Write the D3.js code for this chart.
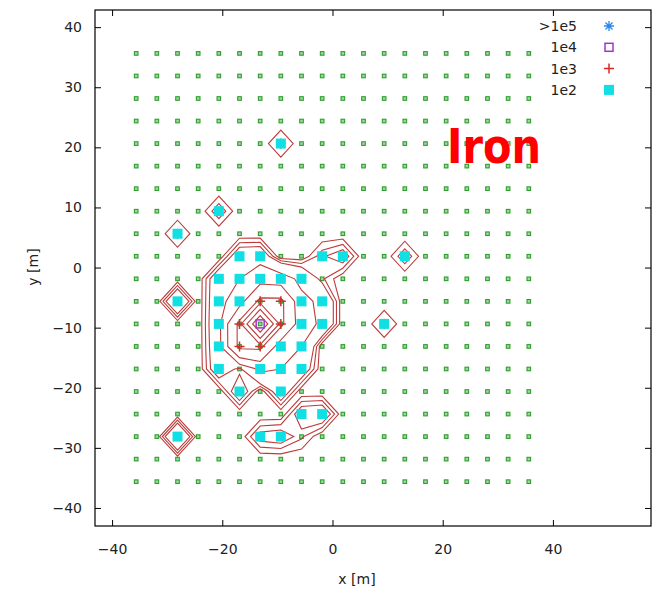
<!DOCTYPE html>
<html>
<head>
<meta charset="utf-8">
<script src="https://cdn.jsdelivr.net/npm/d3@7"></script>
<style>
  body { margin: 0; background: #fff; }
  svg text { font-family: "DejaVu Sans", sans-serif; fill: #222; }
</style>
</head>
<body>
<svg width="662" height="589"></svg>
<script>
// detector array positions (m), 20 x 20
var gridX = [-35.625, -31.875, -28.125, -24.375, -20.625, -16.875, -13.125, -9.375, -5.625, -1.875,
             1.875, 5.625, 9.375, 13.125, 16.875, 20.625, 24.375, 28.125, 31.875, 35.625];
var gridY = [35.625, 31.875, 28.125, 24.375, 20.625, 16.875, 13.125, 9.375, 5.625, 1.875,
             -1.875, -5.625, -9.375, -13.125, -16.875, -20.625, -24.375, -28.125, -31.875, -35.625];

// detectors with signal (x, y, particles)
var hitX = [-9.375, -20.625, -28.125, -28.125, -28.125, 13.125, 9.375,
            -16.875, -13.125, -1.875, 1.875,
            -20.625, -16.875, -13.125, -9.375, -5.625, -1.875,
            -20.625, -16.875, -13.125, -9.375, -5.625, -1.875,
            -20.625, -16.875, -13.125, -9.375, -5.625, -1.875,
            -20.625, -16.875, -13.125, -9.375, -5.625,
            -20.625, -16.875, -13.125, -9.375, -5.625,
            -16.875, -9.375,
            -5.625, -1.875,
            -13.125, -9.375, -5.625];
var hitY = [20.625, 9.375, 5.625, -5.625, -28.125, 1.875, -9.375,
            1.875, 1.875, 1.875, 1.875,
            -1.875, -1.875, -1.875, -1.875, -1.875, -1.875,
            -5.625, -5.625, -5.625, -5.625, -5.625, -5.625,
            -9.375, -9.375, -9.375, -9.375, -9.375, -9.375,
            -13.125, -13.125, -13.125, -13.125, -13.125,
            -16.875, -16.875, -16.875, -16.875, -16.875,
            -20.625, -20.625,
            -24.375, -24.375,
            -28.125, -28.125, -28.125];
var hitSignal = [100, 120, 100, 270, 300, 120, 100,
                 200, 210, 110, 170,
                 210, 300, 450, 400, 250, 90,
                 220, 450, 1100, 1100, 350, 260,
                 230, 1100, 12000, 1100, 400, 260,
                 220, 1100, 1100, 400, 300,
                 200, 95, 350, 300, 200,
                 200, 200,
                 180, 200,
                 150, 170, 90];

var contourLevels = [40, 80, 120, 300, 600, 1000, 2000, 5000, 8000];

var legendLabels = [">1e5", "1e4", "1e3", "1e2"];
var legendMin = [1e5, 1e4, 1e3, 1e2];

var xTicks = [-40, -20, 0, 20, 40];
var yTicks = [-40, -30, -20, -10, 0, 10, 20, 30, 40];

var svg = d3.select("svg");
var plotL = 95, plotR = 651, plotT = 10, plotB = 526;

var x = d3.scaleLinear().domain([-43.1, 57.8]).range([plotL, plotR]);
var y = d3.scaleLinear().domain([-43.0, 42.85]).range([plotB, plotT]);

// signal grid for contouring
var nx = gridX.length, ny = gridY.length;
var values = new Array(nx * ny).fill(0);
hitX.forEach(function(hx, i) {
  var c = gridX.indexOf(hx), r = gridY.indexOf(hitY[i]);
  values[r * nx + c] = hitSignal[i];
});

var colToX = d3.scaleLinear().domain([0.5, nx - 0.5]).range([gridX[0], gridX[nx - 1]]);
var rowToY = d3.scaleLinear().domain([0.5, ny - 0.5]).range([gridY[0], gridY[ny - 1]]);

var path = d3.geoPath(d3.geoTransform({
  point: function(px, py) { this.stream.point(x(colToX(px)), y(rowToY(py))); }
}));

// green: all detectors
var detectors = [];
gridY.forEach(function(gy) { gridX.forEach(function(gx) { detectors.push([gx, gy]); }); });

svg.append("g")
  .selectAll("rect")
  .data(detectors)
  .enter().append("rect")
  .attr("x", function(d) { return x(d[0]) - 1.8; })
  .attr("y", function(d) { return y(d[1]) - 1.8; })
  .attr("width", 3.6)
  .attr("height", 3.6)
  .attr("fill", "#9fd89f")
  .attr("stroke", "#2e9e2e")
  .attr("stroke-width", 1.1);

// contours
var contours = d3.contours().size([nx, ny]).thresholds(contourLevels)(values);
svg.append("g")
  .selectAll("path")
  .data(contours)
  .enter().append("path")
  .attr("d", path)
  .attr("fill", "none")
  .attr("stroke", "#bd3b3b")
  .attr("stroke-width", 1.1);

var hits = hitX.map(function(hx, i) { return { x: hx, y: hitY[i], s: hitSignal[i] }; });
function level(s) {
  for (var k = 0; k < legendMin.length; k++) if (s >= legendMin[k]) return k;
  return -1;
}

function drawMarker(g, k) {
  if (k === 0) {
    g.append("path").attr("d", "M-5,0H5M0,-5V5M-3.5,-3.5L3.5,3.5M-3.5,3.5L3.5,-3.5")
      .attr("stroke", "#2a86e8").attr("stroke-width", 1.3).attr("fill", "none");
  } else if (k === 1) {
    g.append("rect").attr("x", -4).attr("y", -4).attr("width", 8).attr("height", 8)
      .attr("fill", "none").attr("stroke", "#a035c8").attr("stroke-width", 1.5);
  } else if (k === 2) {
    g.append("path").attr("d", "M-5,0H5M0,-5V5")
      .attr("stroke", "#d42a2a").attr("stroke-width", 1.5).attr("fill", "none");
  } else if (k === 3) {
    g.append("rect").attr("x", -5).attr("y", -5).attr("width", 10).attr("height", 10)
      .attr("fill", "#10e0e4");
  }
}

// markers: draw lower classes first
[3, 2, 1, 0].forEach(function(k) {
  svg.append("g")
    .selectAll("g")
    .data(hits.filter(function(d) { return level(d.s) === k; }))
    .enter().append("g")
    .attr("transform", function(d) { return "translate(" + x(d.x) + "," + y(d.y) + ")"; })
    .each(function() { drawMarker(d3.select(this), k); });
});

// frame and axes
svg.append("rect")
  .attr("x", plotL).attr("y", plotT)
  .attr("width", plotR - plotL).attr("height", plotB - plotT)
  .attr("fill", "none").attr("stroke", "#000").attr("stroke-width", 1.2);

function styleAxis(g) {
  g.select(".domain").remove();
  g.selectAll(".tick line").attr("stroke", "#000");
  g.selectAll(".tick text").attr("font-size", 14).attr("fill", "#222")
    .attr("font-family", "DejaVu Sans, sans-serif");
}

svg.append("g").attr("transform", "translate(0," + plotB + ")")
  .call(d3.axisBottom(x).tickValues(xTicks).tickSize(-6).tickPadding(18))
  .call(styleAxis);
svg.append("g").attr("transform", "translate(0," + plotT + ")")
  .call(d3.axisTop(x).tickValues(xTicks).tickSize(-6).tickFormat(""))
  .call(styleAxis);
svg.append("g").attr("transform", "translate(" + plotL + ",0)")
  .call(d3.axisLeft(y).tickValues(yTicks).tickSize(-6).tickPadding(13))
  .call(styleAxis);
svg.append("g").attr("transform", "translate(" + plotR + ",0)")
  .call(d3.axisRight(y).tickValues(yTicks).tickSize(-6).tickFormat(""))
  .call(styleAxis);

svg.append("text")
  .attr("x", 357).attr("y", 584)
  .attr("text-anchor", "middle")
  .attr("font-size", 14)
  .text("x [m]");

svg.append("text")
  .attr("transform", "translate(38,267) rotate(-90)")
  .attr("text-anchor", "middle")
  .attr("font-size", 14)
  .text("y [m]");

// legend
var legend = svg.append("g")
  .selectAll("g")
  .data(legendLabels)
  .enter().append("g")
  .attr("transform", function(d, i) { return "translate(0," + (26 + i * 21.3) + ")"; });

legend.append("text")
  .attr("x", 577)
  .attr("dy", "0.35em")
  .attr("text-anchor", "end")
  .attr("font-size", 14)
  .text(function(d) { return d; });

legend.each(function(d, i) {
  var g = d3.select(this).append("g").attr("transform", "translate(609,0)");
  drawMarker(g, i);
});

svg.append("text")
  .attr("x", 447).attr("y", 163)
  .attr("font-family", "Lato, sans-serif")
  .attr("font-weight", "bold")
  .attr("font-size", 48)
  .attr("textLength", 94)
  .attr("lengthAdjust", "spacingAndGlyphs")
  .style("fill", "#ff0000")
  .text("Iron");
</script>
</body>
</html>
